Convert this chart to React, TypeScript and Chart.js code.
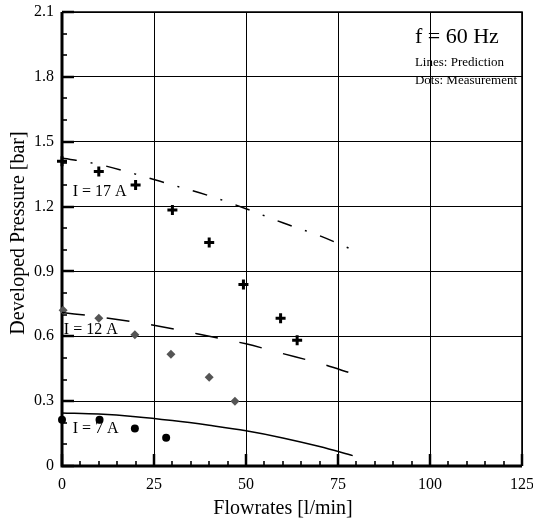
import React, { useEffect, useRef } from 'react';
import { Chart, registerables } from 'chart.js';

Chart.register(...registerables);

// Prediction curves (lines)
const predX = [0, 10, 20, 30, 40, 50, 60, 70, 79];
const pred17 = [1.425, 1.395, 1.35, 1.3, 1.25, 1.19, 1.125, 1.065, 1.0];
const pred12 = [0.71, 0.69, 0.665, 0.635, 0.6, 0.565, 0.52, 0.475, 0.427];
const pred7 = [0.245, 0.24, 0.228, 0.21, 0.188, 0.163, 0.13, 0.09, 0.048];

// Measurements (dots)
const meas17X = [0, 10, 20, 30, 40, 49.3, 59.4, 63.9];
const meas17 = [1.41, 1.362, 1.3, 1.184, 1.034, 0.84, 0.683, 0.582];
const meas12X = [0.3, 10, 19.8, 29.6, 40, 47];
const meas12 = [0.721, 0.683, 0.607, 0.517, 0.41, 0.299];
const meas7X = [0, 10.2, 19.8, 28.3];
const meas7 = [0.214, 0.214, 0.173, 0.131];

// Axes
const xMin = 0;
const xMax = 125;
const xStep = 25;
const xMinorStep = 5;
const yMin = 0;
const yMax = 2.1;
const yStep = 0.3;
const yMinorStep = 0.1;
const xTitle = 'Flowrates [l/min]';
const yTitle = 'Developed Pressure [bar]';

// Annotations
const curveLabels = ['I = 17 A', 'I = 12 A', 'I = 7 A'];
const curveLabelX = [2.9, 0.5, 2.9];
const curveLabelY = [1.269, 0.632, 0.172];
const noteTitle = 'f = 60 Hz';
const noteLines = ['Lines: Prediction', 'Dots: Measurement'];
const noteX = 95.9;
const noteTitleY = 1.983;
const noteLinesY = [1.867, 1.784];

const FONT = "'Liberation Serif', 'Times New Roman', serif";

const pts = (xs: number[], ys: number[]) => xs.map((v, i) => ({ x: v, y: ys[i] }));

const decor = {
  id: 'decor',
  beforeDatasetsDraw(chart: any) {
    const { ctx, chartArea: a, scales } = chart;
    const x = scales.x;
    const y = scales.y;
    ctx.save();
    ctx.strokeStyle = '#000';
    ctx.lineCap = 'butt';
    // x ticks (inside, upward)
    const nx = Math.round((xMax - xMin) / xMinorStep);
    for (let i = 0; i <= nx; i++) {
      const v = xMin + i * xMinorStep;
      const major = Math.abs(v / xStep - Math.round(v / xStep)) < 1e-6;
      const px = Math.round(x.getPixelForValue(v));
      ctx.lineWidth = major ? 2.5 : 1.6;
      ctx.beginPath();
      ctx.moveTo(px, a.bottom);
      ctx.lineTo(px, a.bottom - (major ? 12 : 5));
      ctx.stroke();
    }
    // y ticks (inside, rightward)
    const ny = Math.round((yMax - yMin) / yMinorStep);
    for (let i = 0; i <= ny; i++) {
      const v = yMin + i * yMinorStep;
      const major = i % Math.round(yStep / yMinorStep) === 0;
      const py = Math.round(y.getPixelForValue(v));
      ctx.lineWidth = major ? 2.5 : 1.6;
      ctx.beginPath();
      ctx.moveTo(a.left, py);
      ctx.lineTo(a.left + (major ? 12 : 5), py);
      ctx.stroke();
    }
    // axis lines
    ctx.lineWidth = 3;
    ctx.beginPath();
    ctx.moveTo(a.left, a.top);
    ctx.lineTo(a.left, a.bottom);
    ctx.lineTo(a.right, a.bottom);
    ctx.stroke();
    ctx.lineWidth = 1.6;
    ctx.beginPath();
    ctx.moveTo(a.left, a.top);
    ctx.lineTo(a.right, a.top);
    ctx.lineTo(a.right, a.bottom);
    ctx.stroke();
    ctx.restore();
  },
  afterDatasetsDraw(chart: any) {
    const { ctx, scales } = chart;
    const x = scales.x;
    const y = scales.y;
    ctx.save();
    // curve labels
    ctx.fillStyle = '#000';
    ctx.textBaseline = 'middle';
    ctx.textAlign = 'left';
    ctx.font = `16px ${FONT}`;
    curveLabels.forEach((t, i) => {
      ctx.fillText(t, x.getPixelForValue(curveLabelX[i]), y.getPixelForValue(curveLabelY[i]));
    });
    // note
    ctx.font = `22px ${FONT}`;
    ctx.fillText(noteTitle, x.getPixelForValue(noteX), y.getPixelForValue(noteTitleY));
    ctx.font = `13px ${FONT}`;
    noteLines.forEach((t, i) => {
      ctx.fillText(t, x.getPixelForValue(noteX), y.getPixelForValue(noteLinesY[i]));
    });

    // axis titles
    ctx.font = `20px ${FONT}`;
    ctx.textAlign = 'center';
    ctx.fillText(xTitle, 283, 509);
    ctx.save();
    ctx.translate(19, 233);
    ctx.rotate(-Math.PI / 2);
    ctx.fillText(yTitle, 0, 0);
    ctx.restore();
    ctx.restore();
  },
};

export default function App() {
  const ref = useRef<HTMLCanvasElement | null>(null);
  useEffect(() => {
    document.body.style.margin = '0';
    const canvas = ref.current;
    if (!canvas) return;
    const chart = new Chart(canvas, {
      type: 'scatter',
      data: {
        datasets: [
          {
            type: 'line',
            label: 'Prediction I = 17 A',
            data: pts(predX, pred17),
            borderColor: '#000',
            borderWidth: 1.5,
            borderDash: [15, 14, 2, 14],
            pointRadius: 0,
            fill: false,
            clip: false,
            cubicInterpolationMode: 'monotone',
          },
          {
            type: 'line',
            label: 'Prediction I = 12 A',
            data: pts(predX, pred12),
            borderColor: '#000',
            borderWidth: 1.5,
            borderDash: [23, 22],
            pointRadius: 0,
            fill: false,
            clip: false,
            cubicInterpolationMode: 'monotone',
          },
          {
            type: 'line',
            label: 'Prediction I = 7 A',
            data: pts(predX, pred7),
            borderColor: '#000',
            borderWidth: 1.5,
            pointRadius: 0,
            fill: false,
            clip: false,
            cubicInterpolationMode: 'monotone',
          },
          {
            label: 'Measurement I = 17 A',
            data: pts(meas17X, meas17),
            pointStyle: 'cross',
            pointRadius: 5,
            borderColor: '#000',
            backgroundColor: '#000',
            borderWidth: 3,
            clip: false,
          },
          {
            label: 'Measurement I = 12 A',
            data: pts(meas12X, meas12),
            pointStyle: 'rectRot',
            pointRadius: 4.5,
            borderColor: '#555',
            backgroundColor: '#555',
            borderWidth: 0,
            clip: false,
          },
          {
            label: 'Measurement I = 7 A',
            data: pts(meas7X, meas7),
            pointStyle: 'circle',
            pointRadius: 4,
            borderColor: '#000',
            backgroundColor: '#000',
            borderWidth: 0,
            clip: false,
          },
        ] as any,
      },
      options: {
        responsive: false,
        animation: false,
        devicePixelRatio: 1,
        layout: { padding: { left: 0, top: 12, right: 11, bottom: 0 } },
        plugins: {
          legend: { display: false },
          tooltip: { enabled: false },
        },
        scales: {
          x: {
            type: 'linear',
            min: xMin,
            max: xMax,
            ticks: {
              stepSize: xStep,
              color: '#000',
              padding: 9,
              font: { family: FONT, size: 16 },
            },
            grid: { color: '#000', lineWidth: 1, drawTicks: false },
            border: { display: false },
            afterFit: (s: any) => {
              s.height = 56;
              s.paddingLeft = 0;
              s.paddingRight = 0;
            },
          },
          y: {
            type: 'linear',
            min: yMin,
            max: yMax,
            ticks: {
              stepSize: yStep,
              color: '#000',
              padding: 8,
              font: { family: FONT, size: 16 },
              callback: (v: any) => Number(v).toFixed(1).replace(/^0\.0$/, '0'),
            },
            grid: { color: '#000', lineWidth: 1, drawTicks: false },
            border: { display: false },
            afterFit: (s: any) => {
              s.width = 62;
              s.paddingTop = 0;
              s.paddingBottom = 0;
            },
          },
        },
      },
      plugins: [decor],
    });
    return () => chart.destroy();
  }, []);
  return <canvas ref={ref} width={533} height={522} style={{ display: 'block' }} />;
}
